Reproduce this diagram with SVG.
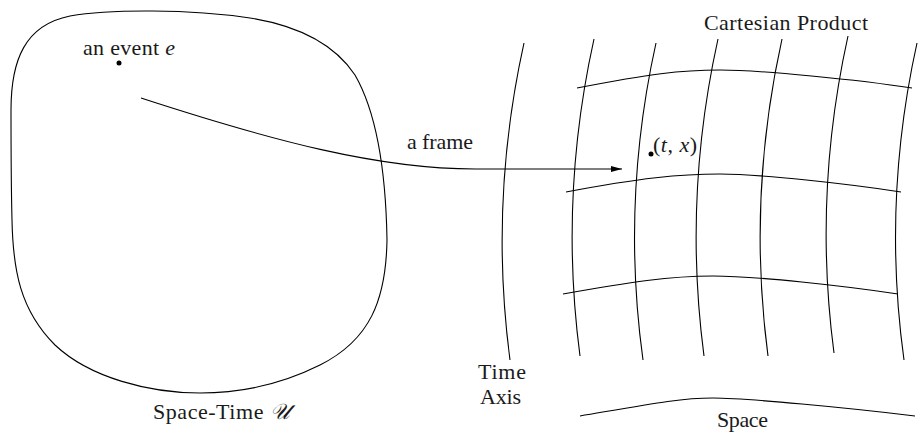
<svg xmlns="http://www.w3.org/2000/svg" width="918" height="434" viewBox="0 0 918 434">
<style>
  .ln { fill: none; stroke: #000; stroke-width: 1.1; }
  .t { font-family: "Liberation Serif", "DejaVu Serif", serif; font-size: 22px; fill: #1a1a1a; }
  .it { font-style: italic; }
  .dot { fill: #000; }
</style>
<defs>
  <marker id="ah" markerWidth="12" markerHeight="7" refX="11" refY="3.5" orient="auto" markerUnits="userSpaceOnUse">
    <path d="M0,0.5 L11,3.5 L0,6.5 Z" fill="#000"/>
  </marker>
</defs>
<rect width="918" height="434" fill="#fff"/>
<g id="spacetime">
  <path class="ln" d="M11,110 C11,60 25,25 70,16 C110,9 190,9 250,18 C300,26 335,45 355,75 C378,115 386,180 387,240 C386,300 370,340 320,365 C280,385 240,393 200,393 C150,393 90,378 55,345 C20,310 13,270 12,220 C11,180 11,150 11,110 Z"/>
  <circle class="dot" cx="119" cy="63" r="2.5"/>
  <text class="t" x="83" y="55" textLength="92">an event <tspan class="it">e</tspan></text>
  <text class="t" x="153" y="419" textLength="137">Space-Time <tspan class="it">𝒰</tspan></text>
</g>
<g id="grid">
  <path class="ln" d="M524,43 Q489,201 510,360"/>
  <path class="ln" d="M594,39 Q559,197 580,356"/>
  <path class="ln" d="M656,43 Q621,201 643,360"/>
  <path class="ln" d="M718,39 Q683,197 704,356"/>
  <path class="ln" d="M782,39 Q747,197 768,356"/>
  <path class="ln" d="M848,36 Q813,194 834,353"/>
  <path class="ln" d="M917,43 Q882,201 904,360"/>
  <path class="ln" d="M577,88 C650,74 680,70 720,70 S860,80 912,88"/>
  <path class="ln" d="M566,192 C640,178 680,174 720,174 S850,184 901,192"/>
  <path class="ln" d="M563,294 C630,282 670,276 713,276 S845,286 898,294"/>
  <path class="ln" d="M580,416 C650,404 680,398 713,398 S850,408 915,416"/>
  <circle class="dot" cx="651" cy="154" r="2.5"/>
  <text class="t" x="653" y="152" textLength="44">(<tspan class="it">t</tspan>, <tspan class="it">x</tspan>)</text>
  <text class="t" x="704" y="30" textLength="164">Cartesian Product</text>
  <text class="t" x="478" y="379" textLength="48">Time</text>
  <text class="t" x="480" y="404" textLength="41">Axis</text>
  <text class="t" x="717" y="427" textLength="51">Space</text>
</g>
<g id="connectors">
  <path class="ln" d="M141,98 C270,140 380,170 480,169 L622,169" marker-end="url(#ah)"/>
  <text class="t" x="407" y="149" textLength="66">a frame</text>
</g>
</svg>
